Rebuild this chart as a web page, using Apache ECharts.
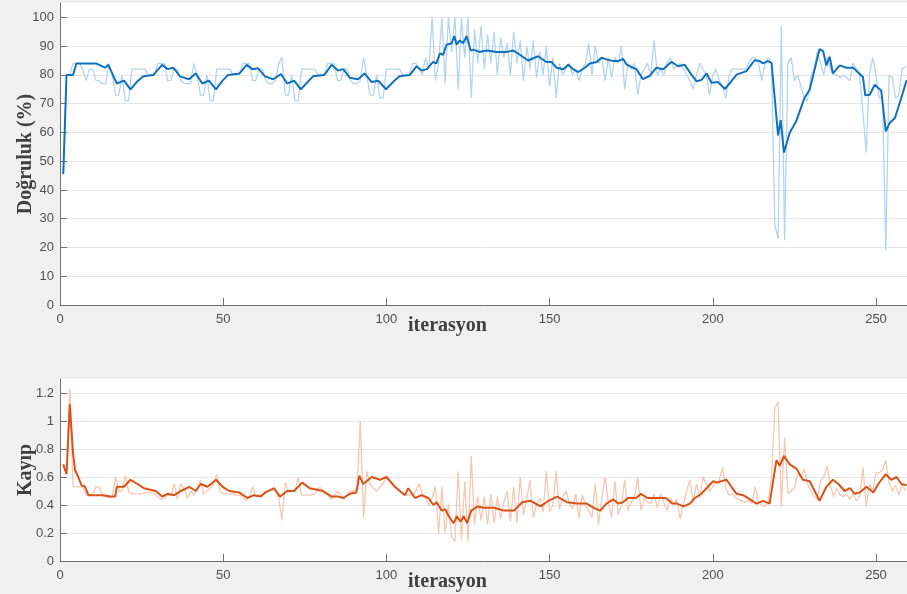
<!DOCTYPE html>
<html>
<head>
<meta charset="utf-8">
<script src="https://cdn.jsdelivr.net/npm/echarts@6/dist/echarts.min.js"></script>
<style>
  html, body { margin: 0; padding: 0; background: #f0f0f0; }
  #chart { width: 907px; height: 594px; }
</style>
</head>
<body>
<div id="chart"></div>
<script>
// raw accuracy per iteration (iteration = index + 1)
const accRaw = [
  45.5, 80, 80,
  84, 84, 84, 82, 78, 82, 82, 78, 78, 77, 77, 84, 80, 73, 73, 80, 71, 71, 82, 82, 82, 82, 82, 80, 80, 80,
  84, 84, 84, 78, 78, 82, 82, 78, 77, 77, 77, 84, 80, 73, 73, 80, 71, 71, 82, 82, 82, 82, 82, 80, 80, 80,
  84, 84, 84, 78, 78, 82, 82, 78, 77, 77, 78, 84, 86, 73, 73, 80, 71, 71, 82, 82, 82, 82, 82, 80, 80, 80,
  84, 84, 84, 78, 78, 82, 82, 78, 77, 77, 78, 86, 80, 73, 73, 80, 72, 72, 82, 82, 82, 82, 82, 80, 80, 80,
  84, 84, 82, 80, 86, 82,
  100, 78, 84, 100, 77, 100, 88, 100, 75, 100, 86, 100, 72, 96,
  84, 97, 82, 94, 84, 95, 80, 93, 86, 91, 80, 95, 84, 92, 78, 90, 82, 92, 79, 88, 80, 90, 76, 86, 72, 84, 80, 82, 84, 80, 82, 78, 82, 84,
  91, 80, 90, 84, 86, 78, 86, 79, 86, 84, 90, 75, 84, 82, 84, 73, 80, 82, 84, 80, 92, 80, 82, 80, 84, 86, 82, 83, 84, 82,
  80, 78, 75, 80, 84, 82, 80, 73, 80, 82, 78, 76, 72, 80, 82, 82, 82, 82, 82, 84, 86, 86, 84, 78, 84, 86, 84,
  28, 23, 97, 22.5, 84, 86, 78, 80, 76, 72, 71, 79, 82, 88, 84, 80, 86, 82, 80, 80, 79, 80, 79, 78, 84, 82, 80, 67, 53,
  80, 86, 80, 72, 72, 19, 80, 79, 72, 73, 82, 83
]

// smoothed accuracy, [iteration, value]
const accSmooth = [
  [1, 45.5], [2, 80], [4, 80], [5, 84], [11, 84], [13.8, 82.5], [14.8, 83.5], [17.4, 77], [19.6, 78], [21.6, 75],
  [23.5, 77.5], [25.5, 79.5], [28.6, 80], [31.3, 83.5], [33, 82], [34.7, 82.5], [36.8, 79.5], [39.5, 78.5], [41.6, 80.5],
  [43.6, 77], [45.6, 78], [47.8, 75], [49.8, 78], [51.5, 80], [55, 80.5], [57.2, 83.5], [58.9, 82], [60.7, 82.3],
  [62.8, 79.5], [65.3, 78.5], [67.7, 80.3], [69.6, 77], [71.7, 78], [73.8, 75], [77.5, 79.5], [81, 80], [83.2, 83.5],
  [85.2, 81.5], [86.8, 82], [88.8, 79], [91.3, 78.5], [93.3, 80.5], [95.5, 77.5], [97.5, 78], [99.9, 75], [102, 77.5],
  [104, 79.5], [107.2, 80], [109.2, 83], [110.8, 81.5], [112.4, 82], [114.3, 84.5], [115.3, 84], [116.4, 87.5],
  [117.4, 87], [118.4, 90.5], [120, 91], [120.8, 93.5], [121.5, 90.5], [122.5, 92], [123.5, 91], [124.6, 93.5],
  [125.8, 88.5], [126.6, 88.8], [128.5, 88], [130.7, 88.5], [133.8, 88], [136.8, 88], [138.8, 88.5], [140.9, 87],
  [143.4, 85], [146.5, 86.5], [149, 84.5], [150.6, 84.5], [152.1, 82.5], [154.2, 82], [155.7, 83.5], [157.2, 82],
  [158.8, 81], [160.8, 82.5], [162.3, 84], [164.4, 84.5], [165.9, 86], [167.4, 85.4], [169.5, 84.8], [171, 84.8],
  [172.5, 85.6], [173.5, 83.7], [175.5, 82.5], [176.6, 82], [178.6, 78.5], [180.7, 79.7], [182.7, 82.5], [184.8, 82],
  [187.3, 84.5], [189.4, 83], [191.4, 83.5], [193.5, 80], [195, 77.8], [196.5, 78.2], [198.1, 80.5], [199.6, 77.3],
  [201.6, 77.5], [203.7, 75.1], [205.7, 77.8], [207.3, 80.1], [210.3, 81.3], [212.8, 85.1], [214.4, 84.8], [215.4, 84],
  [216.9, 84.8], [218, 84.2], [220, 59], [220.8, 64.3], [221.8, 53], [223.6, 60], [225.6, 64], [228.1, 72],
  [229.7, 74.9], [232.7, 89], [233.8, 88.3], [234.8, 83.3], [235.8, 86.3], [236.8, 80.5], [238.9, 83.3], [240.9, 82.5],
  [243, 82.5], [246, 79.3], [246.7, 72.9], [248.1, 73.1], [249.6, 76.6], [251.6, 74.6], [253, 60.4], [254.2, 63.3],
  [255.8, 65], [257.3, 70.3], [259.4, 78.2]
]

// raw loss per iteration (iteration = index + 1)
const lossRaw = [
  0.69, 0.62, 1.23, 0.53, 0.53, 0.53, 0.53, 0.47, 0.47, 0.47, 0.53, 0.53, 0.47, 0.46, 0.45, 0.46, 0.6, 0.5, 0.5, 0.61,
  0.5, 0.48, 0.48, 0.48, 0.48, 0.49, 0.49, 0.49, 0.48,
  0.46, 0.44, 0.45, 0.47, 0.47, 0.55, 0.44, 0.55, 0.52, 0.45, 0.5, 0.47, 0.52, 0.58, 0.48, 0.5, 0.52, 0.55, 0.62, 0.5,
  0.48, 0.48, 0.48, 0.48, 0.47, 0.47, 0.46, 0.43, 0.46, 0.53, 0.46, 0.47, 0.48, 0.5, 0.5, 0.51, 0.5, 0.45, 0.29, 0.56,
  0.5, 0.5, 0.5,
  0.6, 0.47, 0.47, 0.47, 0.47, 0.48, 0.52, 0.52, 0.48, 0.47, 0.44, 0.46, 0.5, 0.47, 0.44, 0.48, 0.5, 0.5, 0.52, 1.0,
  0.31, 0.64, 0.55, 0.52, 0.5, 0.53, 0.55, 0.6, 0.58, 0.55, 0.52, 0.5, 0.48, 0.47, 0.47, 0.47, 0.5, 0.55, 0.48, 0.45,
  0.4, 0.45, 0.53, 0.2, 0.53, 0.2, 0.41, 0.17, 0.14, 0.64, 0.15, 0.57, 0.14, 0.75, 0.26, 0.46, 0.29, 0.46, 0.26, 0.48,
  0.27, 0.46, 0.3, 0.42, 0.5, 0.28, 0.53, 0.27, 0.6, 0.33, 0.45, 0.58, 0.31, 0.4, 0.45, 0.35, 0.64, 0.35, 0.4, 0.64,
  0.37, 0.46, 0.5, 0.42, 0.37, 0.48, 0.31, 0.47, 0.4, 0.36, 0.31, 0.55, 0.26, 0.45, 0.6, 0.42, 0.31, 0.57, 0.33,
  0.4, 0.58, 0.36, 0.42, 0.45, 0.6, 0.36, 0.45, 0.42, 0.41, 0.48, 0.38, 0.48, 0.42, 0.36, 0.45, 0.4, 0.44, 0.3, 0.41,
  0.5, 0.58, 0.42, 0.55, 0.45, 0.6, 0.55, 0.5, 0.53, 0.56, 0.58, 0.67, 0.52, 0.47, 0.48, 0.45, 0.44, 0.43, 0.42, 0.43,
  0.41, 0.53, 0.42, 0.4, 0.39, 0.42, 0.6, 1.09, 1.14, 0.39, 0.88, 0.48, 0.5, 0.52, 0.62, 0.6, 0.66, 0.55, 0.5, 0.46,
  0.44, 0.57, 0.6, 0.68, 0.54, 0.46, 0.52, 0.47, 0.46, 0.48, 0.44, 0.48, 0.43, 0.46, 0.67, 0.39, 0.55, 0.5, 0.63, 0.63,
  0.65, 0.72, 0.56, 0.5, 0.54, 0.47, 0.55, 0.5
]

// smoothed loss, [iteration, value]
const lossSmooth = [
  [1, 0.69], [2, 0.62], [3, 1.12], [4, 0.77], [4.6, 0.65], [5.6, 0.6], [6.6, 0.54], [7.7, 0.53], [8.7, 0.47],
  [13.3, 0.47], [15.4, 0.46], [16.9, 0.46], [17.4, 0.53], [19.6, 0.53], [21.6, 0.58], [23.7, 0.55], [25.7, 0.52],
  [29.3, 0.5], [31.3, 0.46], [32.9, 0.48], [35, 0.47], [37, 0.5], [39.6, 0.53], [41.6, 0.5], [43.1, 0.55], [45.2, 0.53],
  [47.8, 0.58], [49.8, 0.53], [51.9, 0.5], [54.9, 0.49], [57.4, 0.45], [59.4, 0.47], [61.5, 0.46], [63, 0.49],
  [65.6, 0.52], [67.4, 0.46], [69.6, 0.5], [71.7, 0.5], [74.2, 0.56], [76.5, 0.52], [80.6, 0.5], [83.2, 0.46],
  [85.2, 0.46], [86.8, 0.45], [88.8, 0.48], [90.8, 0.49], [91.7, 0.61], [92.9, 0.55], [95.5, 0.6], [98, 0.58],
  [100, 0.6], [102.6, 0.53], [105.7, 0.47], [106.7, 0.52], [108.8, 0.45], [110.8, 0.47], [112.9, 0.45], [114.4, 0.4],
  [115.4, 0.42], [117, 0.36], [118, 0.37], [119.1, 0.32], [120.6, 0.27], [121.6, 0.32], [122.7, 0.28], [123.7, 0.32],
  [124.7, 0.27], [126, 0.36], [127.9, 0.39], [129.9, 0.38], [133, 0.38], [136, 0.36], [139.1, 0.36], [141.6, 0.42],
  [144.2, 0.43], [147.2, 0.39], [149.7, 0.43], [152.3, 0.46], [155.3, 0.42], [158.4, 0.41], [161.4, 0.41],
  [163.5, 0.38], [165.5, 0.36], [167.4, 0.41], [169.5, 0.44], [171, 0.41], [172.5, 0.42], [174, 0.45], [176.5, 0.45],
  [178, 0.48], [180, 0.45], [183, 0.45], [185.6, 0.45], [187.6, 0.41], [189, 0.41], [191, 0.39], [193, 0.41],
  [194.5, 0.45], [196.5, 0.48], [198.5, 0.53], [200.1, 0.57], [201.6, 0.56], [202.6, 0.57], [204.2, 0.58],
  [205.7, 0.53], [207.3, 0.48], [209.3, 0.47], [211.4, 0.44], [213.4, 0.41], [215.4, 0.43], [217.4, 0.41],
  [219.5, 0.72], [220.5, 0.68], [221.8, 0.75], [223.6, 0.69], [225.6, 0.66], [227.6, 0.58], [229.7, 0.57],
  [231.2, 0.5], [232.7, 0.43], [234.8, 0.53], [236.8, 0.58], [238.5, 0.55], [240.4, 0.5], [242, 0.52], [243.5, 0.48],
  [245, 0.49], [247.1, 0.53], [249.2, 0.49], [250.7, 0.55], [253, 0.62], [254.7, 0.58], [256.3, 0.6], [257.8, 0.55],
  [259.4, 0.54]
]

const xTicks = { min: 0, max: 259.5, interval: 50 }
const accTicks = { min: 0, max: 105, interval: 10 }
const lossTicks = { min: 0, max: 1.3, interval: 0.2 }

const labelFont = 'Liberation Sans, Arial, sans-serif'
const titleFont = 'Liberation Serif, Times New Roman, serif'
const axisColor = '#707070'

const titleStyle = {
  fontFamily: titleFont,
  fontWeight: 'bold',
  fontSize: 20,
  color: '#404040'
}

function makeXAxis(gridIndex) {
  return {
    type: 'value',
    gridIndex,
    ...xTicks,
    name: 'iterasyon',
    nameLocation: 'middle',
    nameGap: 11,
    nameMoveOverlap: false,
    nameTextStyle: { ...titleStyle, padding: [0, 72, 0, 0] },
    axisLine: { lineStyle: { color: axisColor } },
    axisTick: { inside: true, length: 7, lineStyle: { color: axisColor } },
    axisLabel: { color: '#505050', fontFamily: labelFont, fontSize: 13, margin: 8, showMaxLabel: false },
    splitLine: { show: false }
  }
}

function makeYAxis(gridIndex, ticks, name) {
  return {
    type: 'value',
    gridIndex,
    ...ticks,
    name,
    nameLocation: 'middle',
    nameGap: 24,
    nameMoveOverlap: false,
    nameTextStyle: titleStyle,
    axisLine: { show: true, lineStyle: { color: axisColor } },
    axisTick: { show: true, inside: true, length: 7, lineStyle: { color: axisColor } },
    axisLabel: { color: '#505050', fontFamily: labelFont, fontSize: 13, margin: 6, showMaxLabel: false },
    splitLine: { showMaxLine: false, lineStyle: { color: '#e6e6e6' } }
  }
}

function lineSeries(axisIndex, data, color, width) {
  return {
    type: 'line',
    xAxisIndex: axisIndex,
    yAxisIndex: axisIndex,
    showSymbol: false,
    symbol: 'none',
    lineStyle: { color, width },
    data
  }
}

const chart = echarts.init(document.getElementById('chart'))

chart.setOption({
  animation: false,
  backgroundColor: '#f0f0f0',
  grid: [
    { left: 60, right: 0, top: 3, height: 302, show: true, backgroundColor: '#fff', borderWidth: 0 },
    { left: 60, right: 0, top: 379, height: 182, show: true, backgroundColor: '#fff', borderWidth: 0 }
  ],
  xAxis: [makeXAxis(0), makeXAxis(1)],
  yAxis: [makeYAxis(0, accTicks, 'Doğruluk (%)'), makeYAxis(1, lossTicks, 'Kayıp')],
  series: [
    lineSeries(0, accRaw.map((v, k) => [k + 1, v]), '#b3d5ee', 1.3),
    lineSeries(0, accSmooth, '#1271be', 2),
    lineSeries(1, lossRaw.map((v, k) => [k + 1, v]), '#f6c8b3', 1.3),
    lineSeries(1, lossSmooth, '#d95319', 2)
  ]
})

window.addEventListener('resize', () => {
  chart.resize()
})
</script>
</body>
</html>
